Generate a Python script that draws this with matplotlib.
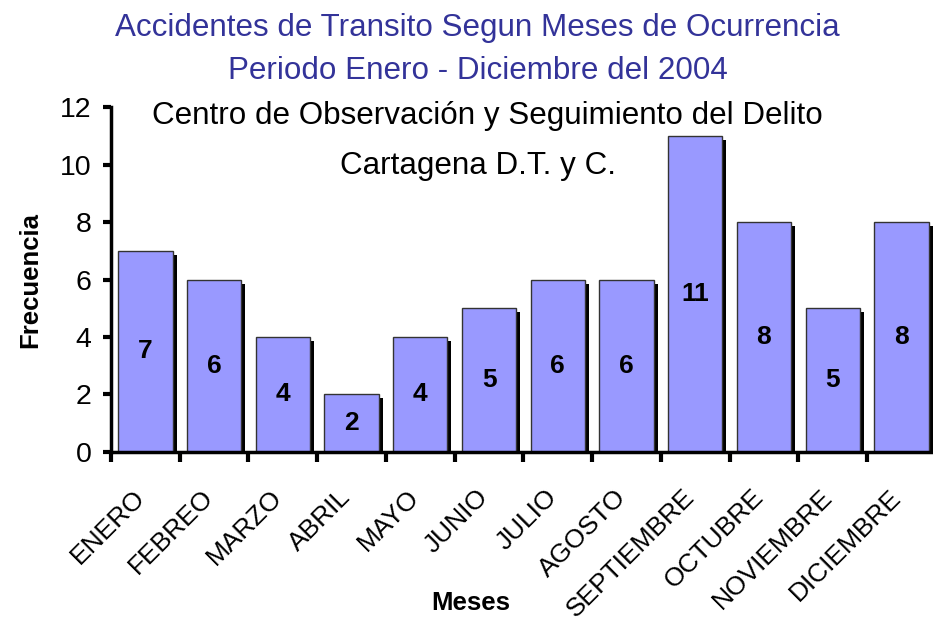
import numpy as np
import matplotlib
matplotlib.use('Agg')
import matplotlib.pyplot as plt
import matplotlib.transforms as mtransforms

meses = ['ENERO', 'FEBREO', 'MARZO', 'ABRIL', 'MAYO', 'JUNIO', 'JULIO',
         'AGOSTO', 'SEPTIEMBRE', 'OCTUBRE', 'NOVIEMBRE', 'DICIEMBRE']
frecuencia = [7, 6, 4, 2, 4, 5, 6, 6, 11, 8, 5, 8]
yticks = [0, 2, 4, 6, 8, 10, 12]

plt.rcParams['font.family'] = ['Liberation Sans', 'DejaVu Sans']

fig = plt.figure(figsize=[9.33, 6.26], dpi=100)
ax = fig.add_axes([0.119, 0.278, 0.884, 0.551])

x = np.arange(len(meses))
w = 0.79
# sombra de las barras
sh = mtransforms.offset_copy(ax.transData, fig=fig, x=4, y=-4, units='dots')
ax.bar(x, frecuencia, width=w, color='black', zorder=1, transform=sh)
ax.bar(x, frecuencia, width=w, color='#9999ff', edgecolor='#333333',
       linewidth=1, zorder=2)

for xi, v in zip(x, frecuencia):
    ax.text(xi, v / 2, str(v), ha='center', va='center', fontsize=19,
            fontweight='bold', zorder=3)

ax.set_xlim(-0.5, 11.5)
ax.set_ylim(0, 12)
ax.set_yticks(yticks)
ax.set_yticklabels([str(t) for t in yticks], fontsize=20.5)
ax.set_xticks(np.arange(-0.5, 12, 1))
ax.set_xticklabels([])
ax.tick_params(axis='x', length=7, width=3, direction='out')
ax.tick_params(axis='y', length=6, width=3, direction='out', pad=8)
for s in ['top', 'right']:
    ax.spines[s].set_visible(False)
for s in ['left', 'bottom']:
    ax.spines[s].set_linewidth(2.5)
    ax.spines[s].set_zorder(4)

# etiquetas de meses inclinadas
base = mtransforms.blended_transform_factory(ax.transData, ax.transAxes)
lab_tr = mtransforms.offset_copy(base, fig=fig, x=-13, y=-33, units='dots')
for xi, m in zip(x, meses):
    ax.text(xi, 0, m, transform=lab_tr, rotation=45, ha='right', va='top',
            rotation_mode='anchor', fontsize=19, clip_on=False)

fig.text(0.032, 0.553, 'Frecuencia', rotation=90, ha='center', va='center',
         fontsize=18.5, fontweight='bold')
fig.text(0.505, 0.036, 'Meses', ha='center', va='center',
         fontsize=18.5, fontweight='bold')

fig.text(0.512, 0.955, 'Accidentes de Transito Segun Meses de Ocurrencia',
         ha='center', va='center', fontsize=22.6, color='#333399')
fig.text(0.512, 0.886, 'Periodo Enero - Diciembre del 2004',
         ha='center', va='center', fontsize=22.6, color='#333399')
fig.text(0.5225, 0.814, 'Centro de Observación y Seguimiento del Delito',
         ha='center', va='center', fontsize=22.6, color='black')
fig.text(0.512, 0.735, 'Cartagena D.T. y C.',
         ha='center', va='center', fontsize=22.6, color='black')

fig.savefig('out.png', dpi=100)
